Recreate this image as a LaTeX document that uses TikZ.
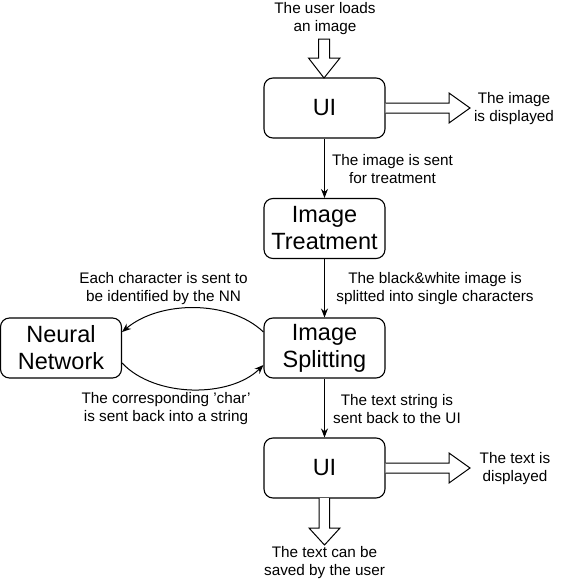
\documentclass[tikz,border=0pt]{standalone}
\usepackage{fontspec}
\setmainfont{Liberation Sans}
\usetikzlibrary{arrows.meta}
\begin{document}
\begin{tikzpicture}[x=1pt,y=-1pt,
  box/.style={draw, line width=1.1pt, rounded corners=9pt, minimum width=121pt, minimum height=60pt, align=center, inner sep=0pt, font=\fontsize{23.5}{27}\selectfont},
  lbl/.style={align=center, inner sep=0pt, font=\fontsize{15.3}{18}\selectfont},
  conn/.style={draw, line width=1pt, -{Stealth[length=9pt,width=7pt]}},
  blk/.style={draw, line width=1pt, fill=white, line join=miter}]
\useasboundingbox (0,0) rectangle (567,587);
\node[box] (ui1) at (324.5,108) {UI};
\node[box] (it) at (324.5,228.5) {Image\\Treatment};
\node[box] (is) at (324.5,348) {Image\\Splitting};
\node[box] (nn) at (61,348) {Neural\\Network};
\node[box] (ui2) at (324.5,468) {UI};

\node[lbl] (tin) at (325,19) {The user loads\\an image};
\node[lbl] (tdisp1) at (514,108.5) {The image\\is displayed};
\node[lbl] (tdisp2) at (515,469) {The text is\\displayed};
\node[lbl] (tsave) at (324.5,563) {The text can be\\saved by the user};
\node[lbl] (l1) at (392.5,169) {The image is sent\\for treatment};
\node[lbl] (l2) at (435,289) {The black\&white image is\\splitted into single characters};
\node[lbl] (l3) at (397,409) {The text string is\\sent back to the UI};
\node[lbl] (l4) at (163.5,289) {Each character is sent to\\be identified by the NN};
\node[lbl] (l5) at (166,409) {The corresponding \symbol{39}char\symbol{39}\\is sent back into a string};

% connectors
\draw[conn] (ui1.south) -- (it.north);
\draw[conn] (it.south) -- (is.north);
\draw[conn] (is.south) -- (ui2.north);
\coordinate (isw1) at ([yshift=16pt]is.west);
\coordinate (nne1) at ([yshift=16pt]nn.east);
\coordinate (isw2) at ([yshift=-17pt]is.west);
\coordinate (nne2) at ([yshift=-15pt]nn.east);
\draw[conn] (isw1) .. controls (230,300) and (160,300) .. (nne1);
\draw[conn] (nne2) .. controls (155,398) and (230,398) .. (isw2);

% block arrows
\draw[blk] (318.5,39) -- (329.5,39) -- (329.5,58) -- (340,58) -- (324,78) -- (308.5,58) -- (318.5,58) -- cycle;
\draw[blk] (ui1.east |- 0,103) -- (449,103) -- (449,93) -- (470,108) -- (449,123) -- (449,113) -- (ui1.east |- 0,113);
\draw[blk] (ui2.east |- 0,463) -- (449,463) -- (449,453) -- (470,468) -- (449,483) -- (449,473) -- (ui2.east |- 0,473);
\draw[blk] (319,498) -- (319,528) -- (309,528) -- (324.5,545) -- (340,528) -- (329.5,528) -- (329.5,498);
\end{tikzpicture}
\end{document}
